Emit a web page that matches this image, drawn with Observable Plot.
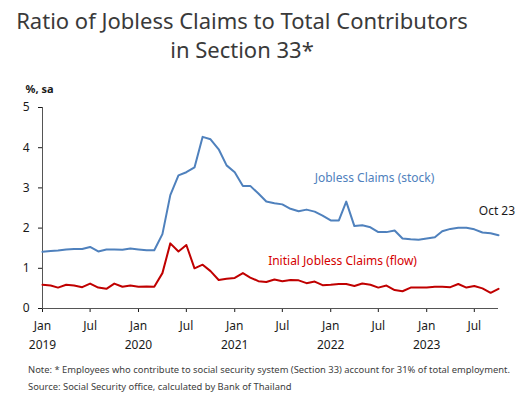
<!DOCTYPE html>
<html><head><meta charset="utf-8">
<script src="https://cdn.jsdelivr.net/npm/d3@7"></script>
<script src="https://cdn.jsdelivr.net/npm/@observablehq/plot@0.6"></script>
<style>
body{margin:0;background:#fff;font-family:"Noto Sans",sans-serif;}
#wrap{position:relative;width:525px;height:396px;overflow:hidden;background:#fff}
.title{position:absolute;left:0;width:484px;text-align:center;font-size:22px;color:#3a3a3a;line-height:29px;top:6px;margin:0;font-weight:normal}
#chart{position:absolute;left:0;top:80px}
.note{position:absolute;left:28px;font-size:9.4px;color:#404040;white-space:nowrap}
</style></head>
<body><div id="wrap">
<h1 class="title">Ratio of Jobless Claims to Total Contributors<br>in Section 33*</h1>
<div id="chart"></div>
<div class="note" style="top:363px">Note: * Employees who contribute to social security system (Section 33) account for 31% of total employment.</div>
<div class="note" style="top:380px">Source: Social Security office, calculated by Bank of Thailand</div>
</div>
<script>
// Monthly, Jan 2019 .. Oct 2023
const startDate = new Date(Date.UTC(2019, 0, 1));
const endDate = new Date(Date.UTC(2023, 9, 1));
const months = d3.utcMonth.range(startDate, d3.utcMonth.offset(endDate, 1));

const stock = [1.41,1.43,1.44,1.47,1.48,1.48,1.53,1.42,1.47,1.47,1.46,1.49,
  1.47,1.45,1.45,1.85,2.82,3.31,3.39,3.51,4.27,4.21,3.96,3.56,
  3.39,3.05,3.05,2.86,2.66,2.62,2.59,2.48,2.42,2.46,2.41,2.31,
  2.19,2.19,2.66,2.05,2.07,2.02,1.90,1.90,1.94,1.74,1.72,1.71,
  1.74,1.77,1.92,1.98,2.01,2.01,1.97,1.89,1.87,1.82];
const flow = [0.59,0.57,0.52,0.59,0.57,0.53,0.62,0.52,0.49,0.62,0.54,0.57,
  0.54,0.55,0.54,0.88,1.62,1.42,1.58,1.00,1.09,0.93,0.71,0.74,
  0.76,0.88,0.77,0.68,0.66,0.72,0.68,0.71,0.70,0.63,0.67,0.58,
  0.59,0.61,0.61,0.56,0.62,0.59,0.52,0.57,0.46,0.43,0.52,0.52,
  0.52,0.54,0.54,0.53,0.61,0.52,0.56,0.50,0.39,0.49];

const tickDates = d3.utcMonth.every(6).range(startDate, endDate);
const monthLabels = ["Jan","Jul","Jan","Jul","Jan","Jul","Jan","Jul","Jan","Jul"];
const yearLabels = ["2019","","2020","","2021","","2022","","2023",""];
const yTicks = [0,1,2,3,4,5];

const annotations = [
  {date: new Date(Date.UTC(2021,10,1)), value: 3.23, text: "Jobless Claims (stock)", color: "#4f81bd"},
  {date: new Date(Date.UTC(2021,4,8)), value: 1.17, text: "Initial Jobless Claims (flow)", color: "#d40000"},
  {date: new Date(Date.UTC(2023,6,18)), value: 2.41, text: "Oct 23", color: "#1a1a1a"}
];

const stockData = months.map((d,i)=>({date:d, value:stock[i]}));
const flowData = months.map((d,i)=>({date:d, value:flow[i]}));

const chart = Plot.plot({
  width: 525, height: 280,
  marginLeft: 42, marginRight: 27, marginTop: 27, marginBottom: 52,
  style: {fontFamily: '"Noto Sans", sans-serif', fontSize: "12px", color: "#1a1a1a", background: "#fff"},
  x: {type: "utc", domain: [startDate, endDate]},
  y: {domain: [0, 5]},
  marks: [
    Plot.axisY({ticks: yTicks, tickFormat: d3.format("d"), tickSize: 4, tickPadding: 9, label: null, fontSize: 12}),
    Plot.axisX({ticks: tickDates, tickFormat: (d,i)=>monthLabels[i], tickSize: 4, tickPadding: 9, label: null, fontSize: 12}),
    Plot.axisX({ticks: tickDates, tickFormat: (d,i)=>yearLabels[i], tickSize: 0, tickPadding: 32, label: null, fontSize: 12}),
    Plot.ruleY([0], {stroke: "#555"}),
    Plot.ruleX([startDate], {stroke: "#555"}),
    Plot.line(stockData, {x: "date", y: "value", stroke: "#4f81bd", strokeWidth: 2}),
    Plot.line(flowData, {x: "date", y: "value", stroke: "#c00000", strokeWidth: 2}),
    Plot.text(annotations, {x: "date", y: "value", text: "text", fill: "color", textAnchor: "start", fontSize: 12}),
    Plot.text(["%, sa"], {frameAnchor: "top-left", dx: -17, dy: -22, fontSize: 11, fontWeight: "bold", fill: "#1a1a1a"})
  ]
});
document.getElementById("chart").appendChild(chart);
</script>
</body></html>
